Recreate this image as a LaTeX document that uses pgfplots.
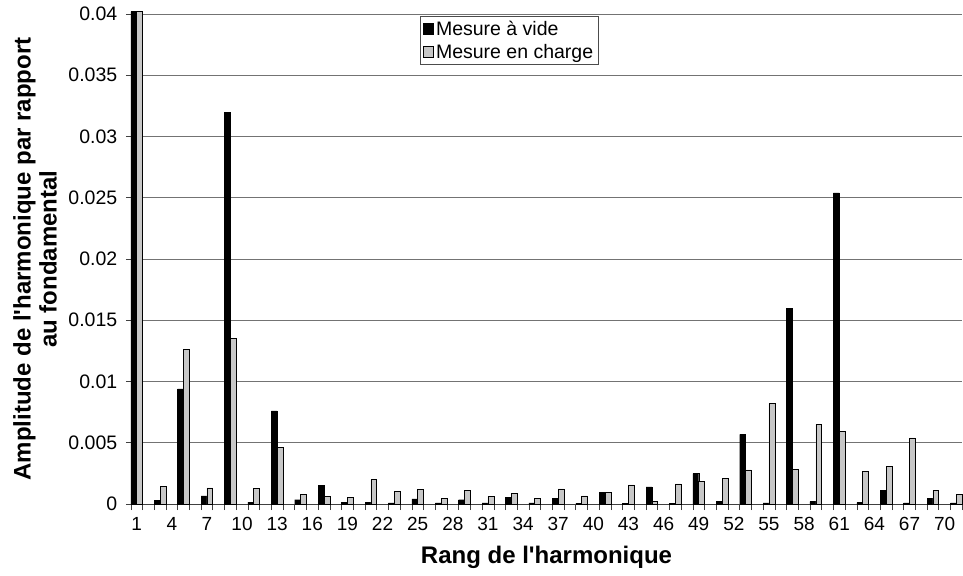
\documentclass[border=0pt]{standalone}
\usepackage{pgfplots}
\pgfplotsset{compat=1.18}
\usepackage{fontspec}
\setmainfont{Liberation Sans}
\begin{document}
\begin{tikzpicture}
\begin{axis}[
  scale only axis,
  width=831.4bp, height=490bp,
  xmin=0.5, xmax=71.5,
  ymin=0, ymax=0.04,
  clip=false,
  ybar=0pt, bar width=5.85bp,
  axis x line*=bottom, axis y line*=left,
  separate axis lines,
  x axis line style={-, draw=black!75, line width=0.8bp},
  y axis line style={draw=none},
  tick align=outside,
  /pgf/number format/assume math mode=true,
  xtick={1,4,...,70},
  major x tick style={draw=none},
  minor xtick={0.5,1.5,...,71.5},
  minor x tick style={draw=black!75, line width=0.6bp},
  minor tick length=6bp,
  ytick={0,0.005,0.01,0.015,0.02,0.025,0.03,0.035,0.04},
  yticklabels={0,0.005,0.01,0.015,0.02,0.025,0.03,0.035,0.04},
  major y tick style={draw=black!75, line width=0.6bp},
  major tick length=5bp,
  ymajorgrids,
  grid style={draw=black!55, line width=0.6bp},
  yticklabel style={font=\fontsize{19.5bp}{22bp}\selectfont, xshift=-5bp},
  xticklabel style={font=\fontsize{19bp}{22bp}\selectfont, yshift=-5bp},
  xlabel={Rang de l\textquotesingle harmonique},
  ylabel={Amplitude de l\textquotesingle harmonique par rapport\\au fondamental},
  xlabel style={at={(axis description cs:0.5,-0.108)}, anchor=center, font=\bfseries\fontsize{24bp}{27bp}\selectfont},
  ylabel style={at={(axis description cs:-0.1152,0.5)}, anchor=center, rotate=0, align=center, font=\bfseries\fontsize{24bp}{26bp}\selectfont},
  legend style={at={(axis description cs:0.348,0.996)}, anchor=north west, draw=black!70, line width=0.6bp,
    font=\fontsize{19.5bp}{22bp}\selectfont, row sep=3bp, inner xsep=3bp, inner ysep=3bp,
    nodes={inner xsep=2bp}},
  legend cell align=left,
  legend image code/.code={\draw[#1, line width=0.6bp] (0bp,-5bp) rectangle (10bp,6bp);},
]
\addplot[fill=black, draw=black] coordinates {
(1,0.0402) (3,0.00027) (5,0.0094) (7,0.00066) (9,0.032) (11,0.00016) (13,0.0076) (15,0.00035) (17,0.00153)
(19,0.00015) (21,0.00016) (23,0.0001) (25,0.00041) (27,0.0001) (29,0.00035) (31,0.0001) (33,0.00057) (35,0.0001)
(37,0.00046) (39,0.00008) (41,0.00096) (43,0.00005) (45,0.00139) (47,0.00008) (49,0.00248) (51,0.0002) (53,0.00568)
(55,0.0001) (57,0.016) (59,0.0002) (61,0.0254) (63,0.00012) (65,0.0011) (67,0.0001) (69,0.00046) (71,0.0001)
};
\addlegendentry{Mesure à vide}
\addplot[fill=black!22, draw=black, line width=0.6bp] coordinates {
(1,0.0402) (3,0.00142) (5,0.0126) (7,0.00131) (9,0.0135) (11,0.00128) (13,0.00461) (15,0.00079) (17,0.00063)
(19,0.00052) (21,0.002) (23,0.00106) (25,0.00117) (27,0.00044) (29,0.00112) (31,0.0006) (33,0.00085) (35,0.00044)
(37,0.00123) (39,0.00066) (41,0.00098) (43,0.00156) (45,0.0002) (47,0.00164) (49,0.00186) (51,0.00207) (53,0.00278)
(55,0.0082) (57,0.0028) (59,0.0065) (61,0.0059) (63,0.00265) (65,0.00306) (67,0.0054) (69,0.00112) (71,0.0008)
};
\addlegendentry{Mesure en charge}
\end{axis}
\pgfresetboundingbox
\path ([shift={(-130.8bp,-71bp)}]current axis.south west) rectangle ([shift={(0.8bp,14bp)}]current axis.north east);
\end{tikzpicture}
\end{document}
